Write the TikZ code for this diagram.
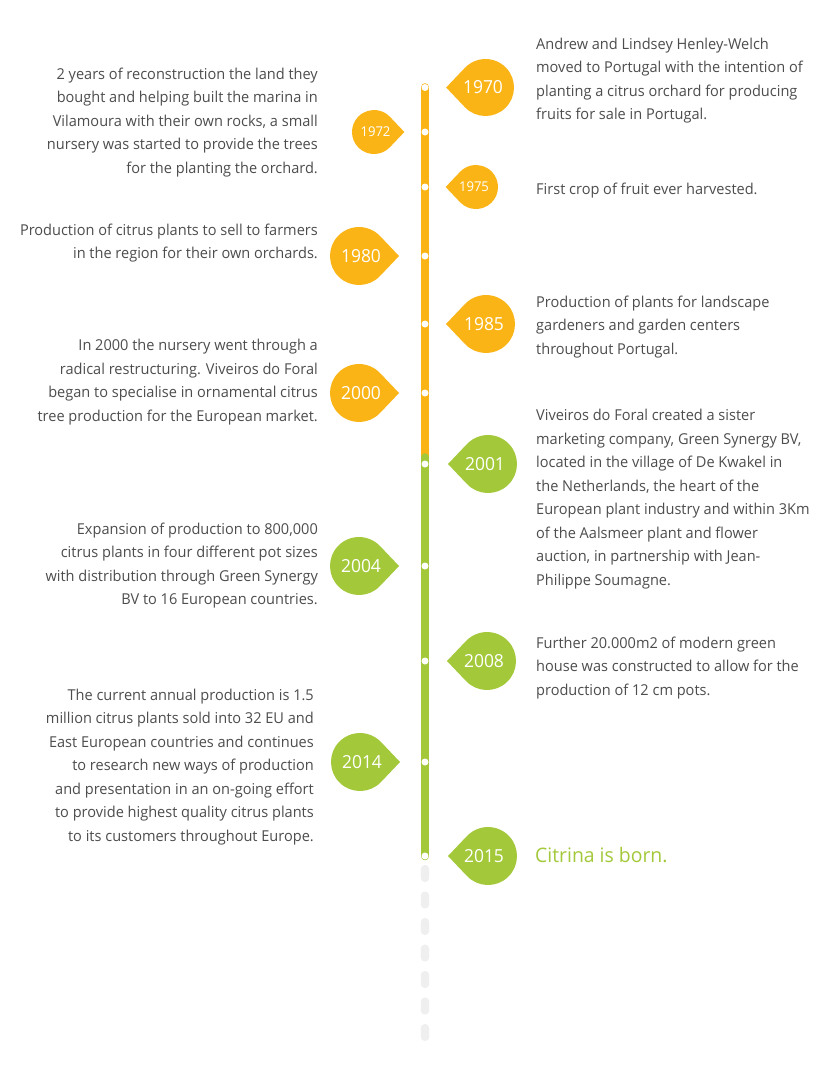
\documentclass[tikz,border=0pt]{standalone}
\usepackage{fontspec}
\setmainfont{Open Sans}[FakeStretch=0.97]
\definecolor{corange}{HTML}{FBB416}
\definecolor{cgreen}{HTML}{A3C93A}
\definecolor{cgray}{HTML}{EFEFEF}
\definecolor{ctext}{HTML}{4D4D4D}
\newcommand\Rlines[1]{\vtop{\halign{\hfil##\cr#1\crcr}}}
\newcommand\Llines[1]{\vtop{\halign{##\hfil\cr#1\crcr}}}
% drop with tip pointing left (cx, cy, r, colour)
\newcommand\dropTipL[4]{\fill[#4] ({#1-1.38*#3},#2) -- ({#1+#3*cos(136.44)},{#2+#3*sin(136.44)}) arc[start angle=136.44, end angle=-136.44, radius=#3] -- cycle;}
% drop with tip pointing right
\newcommand\dropTipR[4]{\fill[#4] ({#1+1.38*#3},#2) -- ({#1+#3*cos(43.56)},{#2+#3*sin(43.56)}) arc[start angle=43.56, end angle=316.44, radius=#3] -- cycle;}
\tikzset{
  bodytext/.style={inner sep=0pt, text=ctext, font=\fontsize{15}{23.5}\selectfont},
  lefttext/.style={bodytext, anchor=base east},
  righttext/.style={bodytext, anchor=base west},
  yearbig/.style={inner sep=0pt, text=white, font=\fontsize{18}{20}\selectfont},
  yearsmall/.style={inner sep=0pt, text=white, font=\fontsize{13.5}{15}\selectfont},
  dot/.style={circle, fill=white, inner sep=0pt, minimum size=7pt},
  barline/.style={line width=8.6pt, line cap=round},
}
\begin{document}
\begin{tikzpicture}[x=1pt,y=-1pt]
\useasboundingbox (0,0) rectangle (840,1080);
\fill[white] (0,0) rectangle (840,1080);
% gray dashes
\foreach \k in {0,...,6}{
  \fill[cgray, rounded corners=4pt] (420.8,{865+26.5*\k}) rectangle (429.2,{882+26.5*\k});
}
% timeline bar
\coordinate (top) at (425,87.5);
\coordinate (mid) at (425,457.5);
\coordinate (bot) at (425,856);
\draw[barline, corange] (top) -- (mid);
\draw[barline, cgreen] (mid) -- (bot);
% dots
\foreach \y/\n in {87.5/d1970,132/d1972,187/d1975,256/d1980,324/d1985,393/d2000,464/d2001,566/d2004,661/d2008,762/d2014,856/d2015}{
  \node[dot] (\n) at (425,\y) {};
}
% drops
\dropTipL{485.5}{87.5}{28.5}{corange}
\dropTipR{374}{132}{22}{corange}
\dropTipL{476}{187}{22}{corange}
\dropTipR{359}{256}{29}{corange}
\dropTipL{486}{324}{29}{corange}
\dropTipR{359}{393}{29}{corange}
\dropTipL{488}{464}{29}{cgreen}
\dropTipR{359}{566}{29}{cgreen}
\dropTipL{487}{661}{29}{cgreen}
\dropTipR{360}{762}{29}{cgreen}
\dropTipL{488}{856}{29}{cgreen}
% years
\node[yearbig] (y1970) at (483,87.5) {1970};
\node[yearsmall] (y1972) at (375.5,132) {1972};
\node[yearsmall] (y1975) at (474,187) {1975};
\node[yearbig] (y1980) at (361,256) {1980};
\node[yearbig] (y1985) at (484,324) {1985};
\node[yearbig] (y2000) at (361,393) {2000};
\node[yearbig] (y2001) at (485,464) {2001};
\node[yearbig] (y2004) at (361,566) {2004};
\node[yearbig] (y2008) at (484,661) {2008};
\node[yearbig] (y2014) at (362,762) {2014};
\node[yearbig] (y2015) at (484,856) {2015};
% left texts
\node[lefttext] (t1972) at (318,79.3) {\Rlines{2 years of reconstruction the land they\cr
bought and helping built the marina in\cr
Vilamoura with their own rocks, a small\cr
nursery was started to provide the trees\cr
for the planting the orchard.}};
\node[lefttext] (t1980) at (318,235) {\Rlines{Production of citrus plants to sell to farmers\cr
in the region for their own orchards.}};
\node[lefttext] (t2000) at (318,350.7) {\Rlines{In 2000 the nursery went through a\cr
radical restructuring. Viveiros do Foral\cr
began to specialise in ornamental citrus\cr
tree production for the European market.}};
\node[lefttext] (t2004) at (318,534) {\Rlines{Expansion of production to 800,000\cr
citrus plants in four different pot sizes\cr
with distribution through Green Synergy\cr
BV to 16 European countries.}};
\node[lefttext] (t2014) at (314,700) {\Rlines{The current annual production is 1.5\cr
million citrus plants sold into 32 EU and\cr
East European countries and continues\cr
to research new ways of production\cr
and presentation in an on-going effort\cr
to provide highest quality citrus plants\cr
to its customers throughout Europe.}};
% right texts
\node[righttext] (t1970) at (536,49.3) {\Llines{Andrew and Lindsey Henley-Welch\cr
moved to Portugal with the intention of\cr
planting a citrus orchard for producing\cr
fruits for sale in Portugal.}};
\node[righttext] (t1975) at (536,194) {First crop of fruit ever harvested.};
\node[righttext] (t1985) at (536,307.3) {\Llines{Production of plants for landscape\cr
gardeners and garden centers\cr
throughout Portugal.}};
\node[righttext] (t2001) at (536,420.7) {\Llines{Viveiros do Foral created a sister\cr
marketing company, Green Synergy BV,\cr
located in the village of De Kwakel in\cr
the Netherlands, the heart of the\cr
European plant industry and within 3Km\cr
of the Aalsmeer plant and flower\cr
auction, in partnership with Jean-\cr
Philippe Soumagne.}};
\node[righttext] (t2008) at (536,648.3) {\Llines{Further 20.000m2 of modern green\cr
house was constructed to allow for the\cr
production of 12 cm pots.}};
\node[righttext, text=cgreen, font=\fontsize{20}{24}\selectfont] (t2015) at (535,862.7) {Citrina is born.};
\end{tikzpicture}
\end{document}
